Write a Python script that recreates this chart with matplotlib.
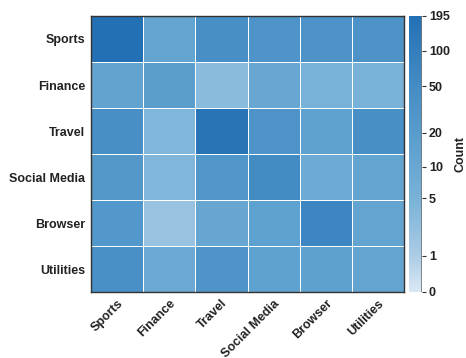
import numpy as np
import matplotlib
matplotlib.use("Agg")
import matplotlib.pyplot as plt
import matplotlib.colors as mcolors

plt.rcParams['font.family'] = ['Liberation Sans', 'DejaVu Sans']
plt.rcParams['font.weight'] = 'bold'

# app categories (rows = from, columns = to)
categories = ["Sports", "Finance", "Travel", "Social Media", "Browser", "Utilities"]

counts_sports   = [195, 12, 42, 31, 35, 33]
counts_finance  = [13, 18, 3, 10, 5, 5]
counts_travel   = [42, 4, 160, 32, 15, 42]
counts_social   = [25, 4, 28, 54, 8, 12]
counts_browser  = [26, 2, 11, 15, 68, 12]
counts_utils    = [40, 9, 31, 15, 16, 12]

cbar_ticks = [0, 1, 5, 10, 20, 50, 100, 195]

matrix = np.array([counts_sports, counts_finance, counts_travel,
                   counts_social, counts_browser, counts_utils], dtype=float)

# light-to-dark blue ramp
ramp_pos = [0.0, 0.13, 0.33, 0.5, 0.75, 1.0]
ramp_rgb = [(218, 232, 245), (172, 204, 229), (122, 179, 216),
            (98, 163, 208), (68, 140, 196), (35, 112, 181)]
cmap = mcolors.LinearSegmentedColormap.from_list(
    "count_blues", [(p, tuple(c / 255 for c in rgb)) for p, rgb in zip(ramp_pos, ramp_rgb)])
norm = mcolors.FuncNorm((np.log1p, np.expm1), vmin=0, vmax=195)

fig = plt.figure(figsize=(4.66, 3.58), dpi=100)
ax = fig.add_axes([91 / 466, 1 - 292 / 358, 313 / 466, 276 / 358])
cax = fig.add_axes([409 / 466, 1 - 292 / 358, 13 / 466, 276 / 358])

mesh = ax.pcolormesh(matrix, cmap=cmap, norm=norm,
                     edgecolors="white", linewidth=0.7)
ax.set_xlim(0, 6)
ax.set_ylim(6, 0)

ax.set_xticks(np.arange(6) + 0.5)
ax.set_yticks(np.arange(6) + 0.5)
ax.set_xticklabels(categories, rotation=45, ha="right", va="top",
                   rotation_mode="anchor", fontsize=9, fontweight="bold",
                   color="#222222")
ax.set_yticklabels(categories, fontsize=9, fontweight="bold", color="#222222")
ax.tick_params(length=0, pad=4)
for s in ax.spines.values():
    s.set_color("#333333")
    s.set_linewidth(1.0)

cb = fig.colorbar(mesh, cax=cax)
cb.set_ticks(cbar_ticks)
cb.set_ticklabels([str(t) for t in cbar_ticks])
cb.outline.set_visible(False)
cax.tick_params(labelsize=9, length=3, width=0.8, color="#333333", pad=2,
                labelcolor="#222222")
for lbl in cax.get_yticklabels():
    lbl.set_fontweight("bold")
cb.set_label("Count", fontsize=9, fontweight="bold", labelpad=3, color="#222222")
cax.axvline(1.0, color="#777777", linewidth=1.2)

fig.savefig("out.png", dpi=100)
